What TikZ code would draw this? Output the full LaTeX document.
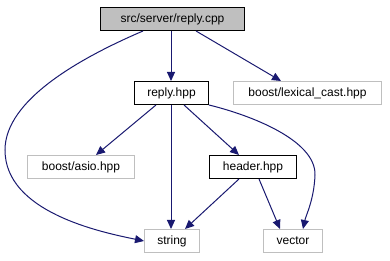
\documentclass[tikz,border=0pt]{standalone}
\usepackage{fontspec}
\setmainfont{Liberation Sans}
\usetikzlibrary{arrows.meta}
\definecolor{edgeblue}{HTML}{191970}
\definecolor{extgray}{HTML}{BFBFBF}
\begin{document}
\begin{tikzpicture}[x=1pt,y=-1pt,
  file/.style={draw=black, line width=1pt, fill=white, minimum height=23pt, inner xsep=4pt, font=\fontsize{12}{14}\selectfont, anchor=north west},
  root/.style={file, fill=extgray},
  ext/.style={file, draw=extgray},
  dep/.style={draw=edgeblue, line width=1pt, -{Triangle[length=9pt,width=8pt]}}]
\useasboundingbox (0,0) rectangle (390,261);
\node[root, minimum width=144pt] (cpp) at (100,7) {src/server/reply.cpp};
\node[file, minimum width=74pt] (hpp) at (134,81) {reply.hpp};
\node[ext, minimum width=148pt] (lex) at (233,81) {boost/lexical\_cast.hpp};
\node[ext, minimum width=107pt] (asio) at (27,155) {boost/asio.hpp};
\node[file, minimum width=87pt] (hdr) at (209,155) {header.hpp};
\node[ext, minimum width=55pt] (str) at (144,229) {string};
\node[ext, minimum width=59pt] (vec) at (263,229) {vector};
% edges
\draw[dep] (cpp.south -| 143,0) .. controls (80,58) and (5,100) .. (5,150) .. controls (5,212) and (100,232) .. (str.west);
\draw[dep] (cpp.south -| 171,0) -- (hpp.north -| 171,0);
\draw[dep] (cpp.south -| 196,0) -- (lex.north -| 281,0);
\draw[dep] (hpp.south -| 156,0) -- (asio.north -| 96,0);
\draw[dep] (hpp.south -| 171,0) -- (str.north -| 171,0);
\draw[dep] (hpp.south -| 184,0) -- (hdr.north -| 239,0);
\draw[dep] (hpp.south east) .. controls (250,115) and (316,140) .. (315,175) .. controls (314,200) and (306,215) .. (vec.north -| 303,0);
\draw[dep] (hdr.south -| 239,0) -- (str.north -| 185,0);
\draw[dep] (hdr.south -| 259,0) -- (vec.north -| 280,0);
\end{tikzpicture}
\end{document}
